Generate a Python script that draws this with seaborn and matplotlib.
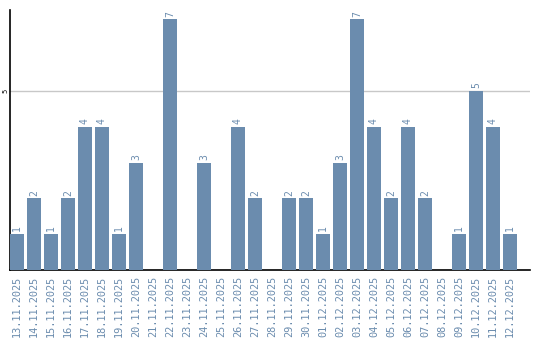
import matplotlib
matplotlib.use("Agg")
import matplotlib.pyplot as plt
import seaborn as sns
import pandas as pd

dates = ["13.11.2025", "14.11.2025", "15.11.2025", "16.11.2025", "17.11.2025",
         "18.11.2025", "19.11.2025", "20.11.2025", "21.11.2025", "22.11.2025",
         "23.11.2025", "24.11.2025", "25.11.2025", "26.11.2025", "27.11.2025",
         "28.11.2025", "29.11.2025", "30.11.2025", "01.12.2025", "02.12.2025",
         "03.12.2025", "04.12.2025", "05.12.2025", "06.12.2025", "07.12.2025",
         "08.12.2025", "09.12.2025", "10.12.2025", "11.12.2025", "12.12.2025"]
counts = [1, 2, 1, 2, 4, 4, 1, 3, 0, 7, 0, 3, 0, 4, 2, 0, 2, 2, 1, 3,
          7, 4, 2, 4, 2, 0, 1, 5, 4, 1]
y_ticks = [5]

sns.set_theme(style="white")
plt.rcParams['font.family'] = ['DejaVu Sans Mono', 'DejaVu Sans']

BAR = "#6b8cae"
df = pd.DataFrame({"date": dates, "count": counts})

fig = plt.figure(figsize=(5.4, 3.4), dpi=100)
ax = fig.add_axes([10/540, 70/340, 520/540, 260/340])
sns.barplot(data=df, x="date", y="count", order=dates, color=BAR,
            saturation=1, width=14/17, ax=ax, zorder=3, linewidth=0,
            edgecolor="none")

ax.set_xlim(-0.41, 30.18)
ax.set_ylim(0, 7.26)
ax.set_yticks(y_ticks)
ax.set_yticklabels([str(t) for t in y_ticks], rotation=90, va="center",
                   fontsize=5, color="black")
ax.yaxis.grid(True, color="#c8c8c8", linewidth=1, zorder=0)
ax.set_axisbelow(True)
ax.tick_params(axis="y", length=0, pad=1)
ax.tick_params(axis="x", length=0, pad=4)
ax.set_xticks(range(len(dates)))
ax.set_xticklabels(dates, rotation=90, fontsize=7.4, color=BAR)
ax.set_xlabel("")
ax.set_ylabel("")

for s in ["top", "right"]:
    ax.spines[s].set_visible(False)
for s in ["left", "bottom"]:
    ax.spines[s].set_visible(True)
    ax.spines[s].set_color("black")
    ax.spines[s].set_linewidth(1.2)

for i, v in enumerate(counts):
    if v > 0:
        ax.annotate(str(v), (i, v), xytext=(0, 2), textcoords="offset points",
                    ha="center", va="bottom", rotation=90, fontsize=7,
                    color=BAR)

fig.savefig("out.png", dpi=100)
